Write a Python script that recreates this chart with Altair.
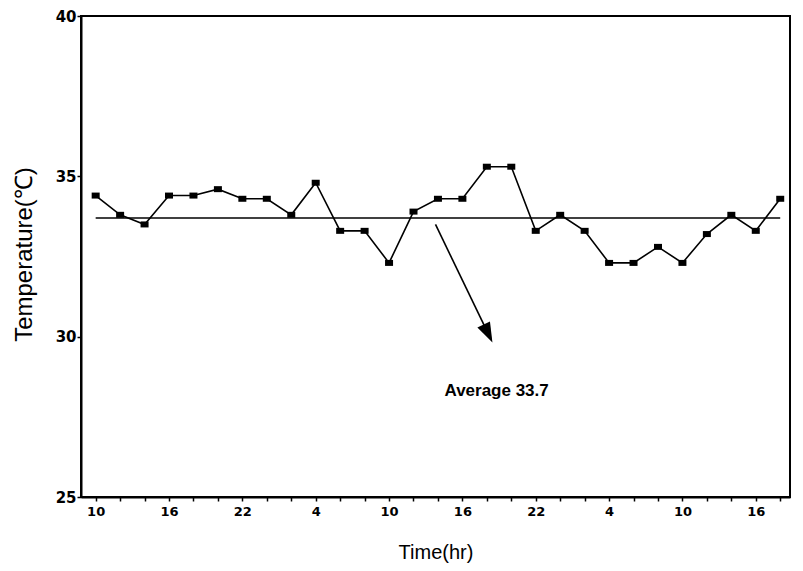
import altair as alt
import pandas as pd

# Time in hours from the start (10 h on day 1), one reading every 2 h
hours = [10, 12, 14, 16, 18, 20, 22, 24, 26, 28, 30, 32, 34, 36, 38,
         40, 42, 44, 46, 48, 50, 52, 54, 56, 58, 60, 62, 64, 66]
temps = [34.4, 33.8, 33.5, 34.4, 34.4, 34.6, 34.3, 34.3, 33.8, 34.8,
         33.3, 33.3, 32.3, 33.9, 34.3, 34.3, 35.3, 35.3, 33.3, 33.8,
         33.3, 32.3, 32.3, 32.8, 32.3, 33.2, 33.8, 33.3, 34.3]
y_ticks = [25, 30, 35, 40]

avg_value = 33.7
avg_start = 10
avg_end = 66

arrow_from = [37.8, 33.5]   # (hour, temp)
arrow_to = [42.1, 30.1]
note_pos = [42.8, 28.3]
note_text = "Average 33.7"

df = pd.DataFrame({"hour": hours, "temp": temps})
avg_df = pd.DataFrame({"hour": [avg_start], "hour2": [avg_end], "temp": [avg_value]})
arrow_df = pd.DataFrame({"hour": [arrow_from[0]], "temp": [arrow_from[1]],
                         "hour2": [arrow_to[0]], "temp2": [arrow_to[1]]})
head_df = pd.DataFrame({"hour": [arrow_to[0]], "temp": [arrow_to[1]]})
note_df = pd.DataFrame({"hour": [note_pos[0]], "temp": [note_pos[1]], "t": [note_text]})

xscale = alt.Scale(domain=[8.8, 66.8], nice=False, zero=False)
yscale = alt.Scale(domain=[25, 40], nice=False, zero=False)

x_axis = alt.Axis(
    values=hours,
    labelExpr="(datum.value - 10) % 6 == 0 ? '' + (datum.value % 24) : ''",
    labelOverlap=False, labelFlush=False,
    tickSize=4, tickWidth=1.5, tickColor="black",
    domainColor="black", domainWidth=2,
    labelFont="DejaVu Sans", labelFontWeight="bold", labelFontSize=13,
    labelColor="black", labelPadding=4,
    title="Time(hr)", titleFont="Liberation Sans", titleFontSize=20,
    titleFontWeight="normal", titleColor="black",
    titleBaseline="middle", titleY=55, grid=False,
)
y_axis = alt.Axis(
    values=y_ticks, tickSize=4, tickWidth=1.5, tickColor="black",
    domainColor="black", domainWidth=2, labelOverlap=False, labelFlush=False,
    labelFont="DejaVu Sans", labelFontWeight="bold", labelFontSize=15,
    labelColor="black", labelPadding=1,
    title="Temperature(℃)", titleFont="Liberation Sans", titleFontSize=24,
    titleFontWeight="normal", titleColor="black",
    titleBaseline="middle", titleX=-57, titleY=238, grid=False,
)

X = alt.X("hour:Q", scale=xscale, axis=x_axis)
Y = alt.Y("temp:Q", scale=yscale, axis=y_axis)

base = alt.Chart(df)
line = base.mark_line(color="black", strokeWidth=1.6).encode(x=X, y=Y)
points = base.mark_point(
    shape="M-1,-0.75L1,-0.75L1,0.75L-1,0.75Z", size=64,
    filled=True, color="black", opacity=1,
).encode(x=X, y=Y)
avg = alt.Chart(avg_df).mark_rule(color="black", strokeWidth=1.5).encode(
    x=X, x2="hour2:Q", y=Y,
)
shaft = alt.Chart(arrow_df).mark_rule(color="black", strokeWidth=1.6).encode(
    x=X, x2="hour2:Q", y=Y, y2="temp2:Q",
)
head = alt.Chart(head_df).mark_point(
    shape="M-0.35,-0.5L0.35,-0.5L0,0.5Z", size=1600, angle=334,
    filled=True, color="black", opacity=1,
).encode(x=X, y=Y)
note = alt.Chart(note_df).mark_text(
    font="Liberation Sans", fontSize=17, fontWeight="bold", color="black",
).encode(x=X, y=Y, text="t:N")

chart = alt.layer(line, points, avg, shaft, head, note).properties(
    width=709, height=481,
    padding={"left": 73, "top": 8, "right": 5, "bottom": 70},
    autosize=alt.AutoSizeParams(type="none"),
).configure_view(stroke="black", strokeWidth=2)

chart.save("out.html", embed_options={"renderer": "svg", "actions": False})
